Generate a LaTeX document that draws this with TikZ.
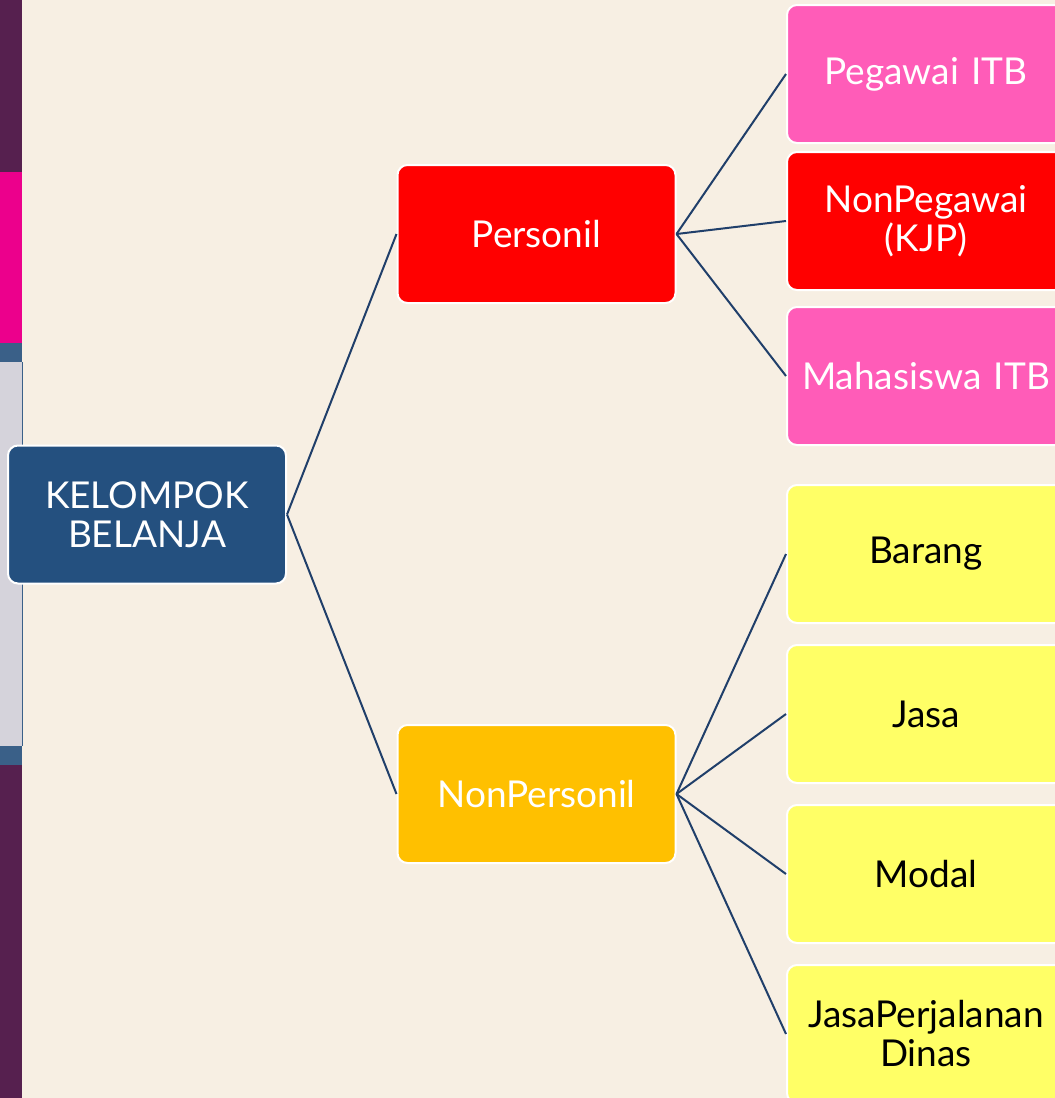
\documentclass[tikz,border=0pt]{standalone}
\usepackage{fontspec}
\setmainfont{Lato}
\usetikzlibrary{positioning}

\definecolor{bgcream}{HTML}{F7EFE3}
\definecolor{stripplum}{HTML}{56204F}
\definecolor{stripmagenta}{HTML}{EC008C}
\definecolor{stripblue}{HTML}{3A6088}
\definecolor{stripgray}{HTML}{D5D3DB}
\definecolor{navy}{HTML}{24507F}
\definecolor{boxpink}{HTML}{FF5CB8}
\definecolor{boxorange}{HTML}{FFC000}
\definecolor{boxyellow}{HTML}{FFFF66}
\definecolor{linkblue}{HTML}{203F6A}

\begin{document}
\begin{tikzpicture}[x=1pt, y=-1pt,
            box/.style={rectangle, draw=white, line width=2pt, rounded corners=10pt,
            minimum width=278pt, minimum height=138pt, text width=274pt, align=center,
            inner sep=2pt, text=white, font=\fontsize{37}{39}\selectfont},
            link/.style={draw=linkblue, line width=2pt}]
            \useasboundingbox (0,0) rectangle (1055,1098);
            \clip (0,0) rectangle (1055,1098);
            \fill[bgcream] (0,0) rectangle (1055,1098);

            % side strip
            \fill[stripplum] (0,0) rectangle (22,172);
            \fill[stripmagenta] (0,172) rectangle (22,343);
            \fill[stripblue] (0,343) rectangle (22,765);
            \fill[stripgray] (-10,362) rectangle (22,746);
            \draw[stripblue, line width=1pt] (22,362) -- (22,746);
            \fill[stripplum] (0,765) rectangle (22,1098);

            % nodes
            \node (kelompok) [box, fill=navy] at (147,514.5) {KELOMPOK\\BELANJA};

            \node (personil) [box, fill=red] at (536.5,234) {Personil};
            \node (nonpersonil) [box, fill=boxorange] at (536.5,794) {NonPersonil};

            \node (pegawai) [box, fill=boxpink] at (926,74) {Pegawai ITB};
            \node (nonpegawai) [box, fill=red] at (926,221) {NonPegawai\\(KJP)};
            \node (mahasiswa) [box, fill=boxpink] at (926,376) {Mahasiswa ITB};

            \node (barang) [box, fill=boxyellow, text=black] at (926,554) {Barang};
            \node (jasa) [box, fill=boxyellow, text=black] at (926,714) {Jasa};
            \node (modal) [box, fill=boxyellow, text=black] at (926,874) {Modal};
            \node (perjalanan) [box, fill=boxyellow, text=black] at (926,1034) {JasaPerjalanan\\Dinas};

            % connectors
            \draw[link] (kelompok.east) -- (personil.west);
            \draw[link] (kelompok.east) -- (nonpersonil.west);
            \foreach \c in {pegawai,nonpegawai,mahasiswa}
                \draw[link] (personil.east) -- (\c.west);
            \foreach \c in {barang,jasa,modal,perjalanan}
                \draw[link] (nonpersonil.east) -- (\c.west);
\end{tikzpicture}
\end{document}
